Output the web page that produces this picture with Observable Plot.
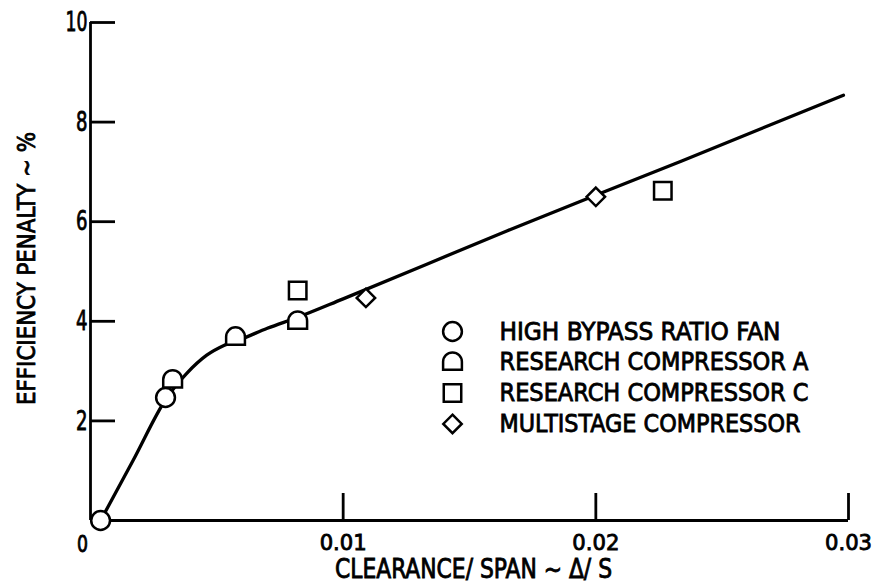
<!DOCTYPE html>
<html>
<head>
<meta charset="utf-8">
<script src="https://cdn.jsdelivr.net/npm/d3@7"></script>
<script src="https://cdn.jsdelivr.net/npm/@observablehq/plot@0.6"></script>
<style>
  html, body { margin: 0; padding: 0; background: #fff; }
  #chart { width: 874px; height: 585px; }
</style>
</head>
<body>
<div id="chart"></div>
<script>
// ---- data ----
const curveX = [0.0004, 0.0017, 0.0030, 0.0038, 0.0046, 0.0053, 0.0060, 0.0070, 0.0082, 0.0100, 0.0165, 0.0234, 0.0298];
const curveY = [0, 1.22, 2.45, 2.95, 3.32, 3.52, 3.65, 3.86, 4.08, 4.45, 5.82, 7.22, 8.54];

const fanX = [0.0004, 0.00297];
const fanY = [0, 2.47];
const compAX = [0.00325, 0.00574, 0.0082];
const compAY = [2.82, 3.68, 4.0];
const compCX = [0.0082, 0.02265];
const compCY = [4.62, 6.62];
const multiX = [0.0109, 0.0200];
const multiY = [4.47, 6.5];

const seriesNames = ["HIGH BYPASS RATIO FAN", "RESEARCH COMPRESSOR A", "RESEARCH COMPRESSOR C", "MULTISTAGE COMPRESSOR"];
const yTicks = [2, 4, 6, 8, 10];
const xTicks = [0.01, 0.02, 0.03];
const originLabel = ["0"];
const xTitle = "CLEARANCE/ SPAN ~ Δ/ S";
const yTitle = "EFFICIENCY PENALTY ~ %";

// ---- custom symbols ----
const rad = (size) => Math.sqrt(size / Math.PI);
const symCircle = { draw(c, s) { const r = rad(s); c.moveTo(r, 0); c.arc(0, 0, r, 0, 2 * Math.PI); c.closePath(); } };
const symD = { draw(c, s) { const r = rad(s); const y0 = -0.05 * r; c.moveTo(-r, y0); c.arc(0, y0, r, Math.PI, 2 * Math.PI); c.lineTo(r, y0 + 0.85 * r); c.lineTo(-r, y0 + 0.85 * r); c.closePath(); } };
const symSquare = { draw(c, s) { const h = rad(s) * 0.93; c.moveTo(-h, -h); c.lineTo(h, -h); c.lineTo(h, h); c.lineTo(-h, h); c.closePath(); } };
const symDiamond = { draw(c, s) { const h = rad(s) * 0.98; c.moveTo(0, -h); c.lineTo(h, 0); c.lineTo(0, h); c.lineTo(-h, 0); c.closePath(); } };
const symbols = [symCircle, symD, symSquare, symDiamond];

const rows = (xs, ys) => xs.map((x, i) => ({x, y: ys[i]}));
const curve = rows(curveX, curveY);
const seriesData = [rows(fanX, fanY), rows(compAX, compAY), rows(compCX, compCY), rows(multiX, multiY)];

const font = "'DejaVu Sans Condensed', 'Liberation Sans Narrow', 'DejaVu Sans', sans-serif";
const dotStyle = {r: 9.4, stroke: "black", fill: "white", strokeWidth: 2.5};
const fmtX = d3.format(".2f");

const legendMarks = seriesNames.flatMap((name, i) => [
  Plot.dot([name], {frameAnchor: "top-left", dx: 362, dy: 309 + i * 30.8, symbol: symbols[i], ...dotStyle}),
  Plot.text([name], {frameAnchor: "top-left", dx: 409, dy: 309 + i * 30.8, text: d => d, textAnchor: "start", lineAnchor: "middle", fontSize: 25, fill: "black"})
]);

const chart = Plot.plot({
  width: 874,
  height: 585,
  marginLeft: 90,
  marginRight: 26,
  marginTop: 22,
  marginBottom: 65,
  x: {domain: [0, 0.03], axis: null},
  y: {domain: [0, 10], axis: null},
  style: {fontFamily: font, background: "white", color: "black"},
  marks: [
    Plot.ruleX([0], {strokeWidth: 2.8}),
    Plot.ruleY([0], {strokeWidth: 2.8}),
    Plot.axisY(yTicks, {label: null, tickSize: -25, strokeWidth: 2.8, tickFormat: () => ""}),
    Plot.axisX(xTicks, {label: null, tickSize: -27, strokeWidth: 2.8, tickFormat: () => ""}),
    Plot.text(yTicks, {x: () => 0, y: d => d, text: d => String(d), dx: -3, textAnchor: "end", lineAnchor: "middle", fontSize: 27, fill: "black"}),
    Plot.text(xTicks, {x: d => d, y: () => 0, text: d => fmtX(d), dy: 22, textAnchor: "middle", lineAnchor: "middle", fontSize: 22, fill: "black"}),
    Plot.text(originLabel, {x: () => 0, y: () => 0, text: d => d, dx: -8, dy: 24, fontSize: 23, lineAnchor: "middle", fill: "black"}),
    Plot.line(curve, {x: "x", y: "y", curve: "monotone-x", strokeWidth: 3.3, stroke: "black"}),
    ...seriesData.map((d, i) => Plot.dot(d, {x: "x", y: "y", symbol: symbols[i], ...dotStyle})),
    ...legendMarks,
    Plot.text([xTitle], {frameAnchor: "bottom", text: d => d, dx: 4, dy: 49, textAnchor: "middle", lineAnchor: "middle", fontSize: 26, fill: "black"}),
    Plot.text([yTitle], {frameAnchor: "left", text: d => d, dx: -64, dy: -3, rotate: -90, textAnchor: "middle", lineAnchor: "middle", fontSize: 25, fill: "black"})
  ]
});

// narrow, heavy lettering: [width in the reference, font size]
const textFit = {
  "10": [22, 27], "8": [11.5, 27], "6": [11.5, 27], "4": [11.5, 27], "2": [11.5, 27], "0": [11, 23],
  "0.01": [47, 22], "0.02": [47, 22], "0.03": [47, 22],
  "HIGH BYPASS RATIO FAN": [281, 25], "RESEARCH COMPRESSOR A": [309, 25],
  "RESEARCH COMPRESSOR C": [309, 25], "MULTISTAGE COMPRESSOR": [301, 25],
  [xTitle]: [277, 26], [yTitle]: [273, 25]
};
d3.select(chart).selectAll("text").each(function () {
  const t = this.textContent;
  if (t in textFit) {
    const [w, fs] = textFit[t];
    this.style.fontSize = fs + "px";
    this.style.stroke = "black";
    this.style.strokeWidth = "0.8px";
    this.setAttribute("textLength", w);
    this.setAttribute("lengthAdjust", "spacingAndGlyphs");
  }
});
document.getElementById("chart").appendChild(chart);
</script>
</body>
</html>
